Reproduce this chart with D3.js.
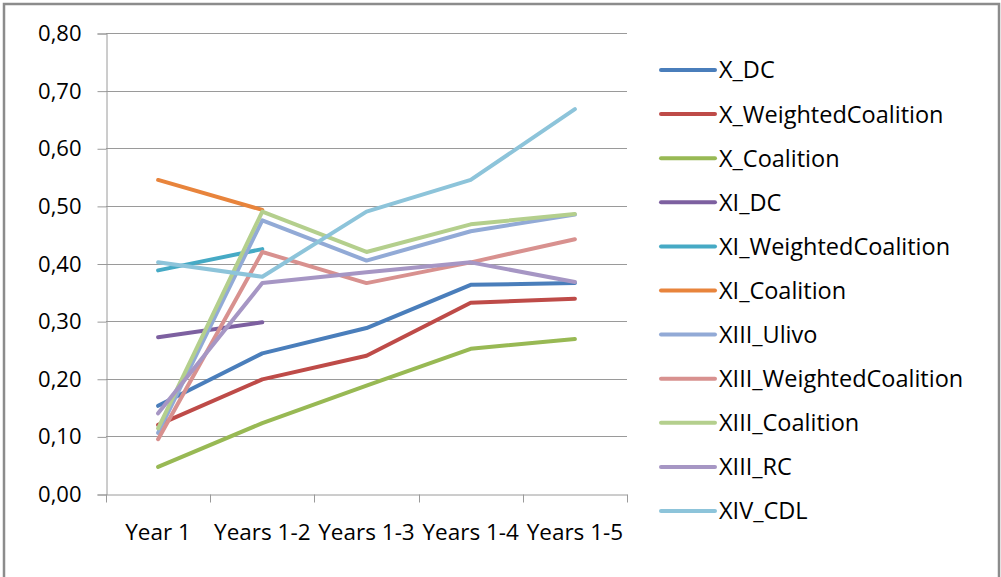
<!DOCTYPE html>
<html>
<head>
<meta charset="utf-8">
<script src="https://cdn.jsdelivr.net/npm/d3@7"></script>
<style>
  body { margin: 0; background: #fff; }
  text { font-family: "Open Sans", sans-serif; fill: #000; }
</style>
</head>
<body>
<svg id="chart"></svg>
<script>
// data
var categories = ["Year 1", "Years 1-2", "Years 1-3", "Years 1-4", "Years 1-5"];
var seriesNames = ["X_DC", "X_WeightedCoalition", "X_Coalition", "XI_DC", "XI_WeightedCoalition",
  "XI_Coalition", "XIII_Ulivo", "XIII_WeightedCoalition", "XIII_Coalition", "XIII_RC", "XIV_CDL"];
var xDC        = [0.153, 0.244, 0.288, 0.363, 0.366];
var xWeighted  = [0.120, 0.199, 0.240, 0.332, 0.339];
var xCoalition = [0.047, 0.123, 0.188, 0.252, 0.269];
var xiDC        = [0.272, 0.298, null, null, null];
var xiWeighted  = [0.388, 0.425, null, null, null];
var xiCoalition = [0.545, 0.493, null, null, null];
var xiiiUlivo     = [0.106, 0.475, 0.405, 0.456, 0.485];
var xiiiWeighted  = [0.095, 0.420, 0.366, 0.402, 0.442];
var xiiiCoalition = [0.114, 0.490, 0.420, 0.468, 0.486];
var xiiiRC        = [0.140, 0.366, 0.385, 0.402, 0.368];
var xivCDL        = [0.402, 0.377, 0.490, 0.545, 0.668];
var yTicks = [0, 0.1, 0.2, 0.3, 0.4, 0.5, 0.6, 0.7, 0.8];

var seriesValues = [xDC, xWeighted, xCoalition, xiDC, xiWeighted, xiCoalition,
  xiiiUlivo, xiiiWeighted, xiiiCoalition, xiiiRC, xivCDL];
var colors = ["#4a7ebb", "#be4b48", "#98b954", "#7d60a0", "#46aac5", "#e8843c",
  "#92aad6", "#d8918f", "#b4cf8d", "#a696c4", "#8dc4da"];

var width = 1001, height = 577;
var plotLeft = 106, plotRight = 627, plotTop = 33, plotBottom = 494;

var svg = d3.select("#chart").attr("width", width).attr("height", height);

// outer frame
svg.append("rect")
    .attr("x", 4).attr("y", 4)
    .attr("width", 995).attr("height", 600)
    .attr("fill", "none")
    .attr("stroke", "#8c8c8c")
    .attr("stroke-width", 2.5);

var x = d3.scaleBand().domain(categories).range([plotLeft, plotRight]);
var y = d3.scaleLinear().domain([0, 0.8]).range([plotBottom, plotTop]);

// gridlines
svg.append("g")
  .selectAll("line")
  .data(yTicks.slice(1))
  .enter().append("line")
    .attr("x1", plotLeft).attr("x2", plotRight)
    .attr("y1", d => Math.round(y(d)) + 0.5).attr("y2", d => Math.round(y(d)) + 0.5)
    .attr("stroke", "#9a9a9a");

// y axis
var yAxis = svg.append("g")
    .attr("transform", "translate(" + (plotLeft + 0.5) + ",0.5)")
    .call(d3.axisLeft(y).tickValues(yTicks).tickSize(9).tickPadding(16)
      .tickFormat(d => d3.format(".2f")(d).replace(".", ",")));
yAxis.selectAll("line, path").attr("stroke", "#9a9a9a");
yAxis.selectAll("text").style("font-size", "22px");

// x axis
var xAxis = svg.append("g")
    .attr("transform", "translate(0," + (plotBottom + 0.5) + ")")
    .call(d3.axisBottom(x).tickSize(0).tickPadding(30));
xAxis.select("path").attr("stroke", "#9a9a9a");
xAxis.selectAll("text").style("font-size", "22.5px");
xAxis.selectAll(".boundary")
  .data(d3.range(categories.length + 1))
  .enter().append("line")
    .attr("class", "boundary")
    .attr("x1", i => Math.round(plotLeft + i * x.bandwidth()) + 0.5)
    .attr("x2", i => Math.round(plotLeft + i * x.bandwidth()) + 0.5)
    .attr("y1", 0).attr("y2", 8)
    .attr("stroke", "#9a9a9a");

// series lines
var line = d3.line()
    .defined(d => d != null)
    .x((d, i) => x(categories[i]) + x.bandwidth() / 2)
    .y(d => y(d));

svg.append("g")
  .selectAll("path")
  .data(seriesValues)
  .enter().append("path")
    .attr("d", line)
    .attr("fill", "none")
    .attr("stroke", (d, i) => colors[i])
    .attr("stroke-width", 4)
    .attr("stroke-linecap", "round")
    .attr("stroke-linejoin", "round");

// legend
var legend = svg.append("g")
  .selectAll("g")
  .data(seriesNames)
  .enter().append("g")
    .attr("transform", (d, i) => "translate(661," + (70 + i * 44.1) + ")");

legend.append("line")
    .attr("x1", 0).attr("x2", 54)
    .attr("stroke", (d, i) => colors[i])
    .attr("stroke-width", 4)
    .attr("stroke-linecap", "round");

legend.append("text")
    .attr("x", 58)
    .attr("dy", "0.36em")
    .style("font-size", "23.5px")
    .text(d => d);
</script>
</body>
</html>
